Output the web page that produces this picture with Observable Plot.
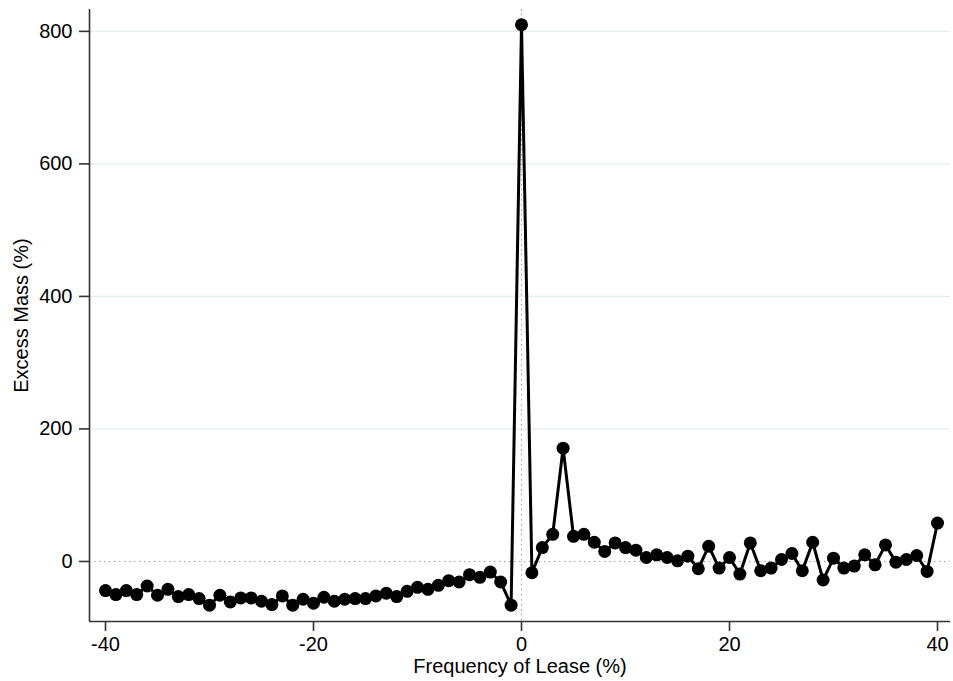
<!DOCTYPE html>
<html>
<head>
<meta charset="utf-8">
<script src="https://cdn.jsdelivr.net/npm/d3@7"></script>
<script src="https://cdn.jsdelivr.net/npm/@observablehq/plot@0.6"></script>
<style>
  html, body { margin: 0; padding: 0; background: #fff; }
  #chart { width: 953px; height: 681px; }
</style>
</head>
<body>
<div id="chart"></div>
<script>
const frequency = d3.range(-40, 41);
const excessMass = [
  -44, -50, -44, -50, -37, -51, -42, -53, -50, -56,
  -66, -51, -61, -55, -55, -60, -65, -52, -66, -57,
  -63, -54, -60, -57, -56, -56, -52, -48, -53, -45,
  -39, -42, -36, -29, -31, -20, -24, -16, -31, -66,
  810,
  -17, 21, 41, 171, 38, 41, 29, 15, 28, 21,
  17, 6, 10, 6, 1, 8, -11, 23, -10, 6,
  -19, 28, -14, -10, 3, 12, -14, 29, -28, 5,
  -10, -7, 10, -5, 25, -1, 3, 9, -15, 58
];
const xTicks = [-40, -20, 0, 20, 40];
const yTicks = [0, 200, 400, 600, 800];
const gridLevels = [200, 400, 600, 800];
const xDomain = [-41.54, 41.25];
const yDomain = [-90.6, 833];

const data = frequency.map((f, i) => ({x: f, y: excessMass[i]}));

const FONT = 20;
const chart = Plot.plot({
  width: 953,
  height: 681,
  marginLeft: 89,
  marginRight: 3,
  marginTop: 9,
  marginBottom: 60,
  style: {fontFamily: "'Liberation Sans', Arial, sans-serif", fontSize: FONT + "px", color: "#000", background: "#fff"},
  x: {domain: xDomain, ticks: xTicks, label: null},
  y: {domain: yDomain, ticks: yTicks, label: null},
  marks: [
    Plot.ruleY(gridLevels, {stroke: "#e3ecef", strokeWidth: 1.2}),
    Plot.ruleY([0], {stroke: "#9aa3a6", strokeWidth: 1, strokeDasharray: "1.5,3.5"}),
    Plot.ruleX([0], {stroke: "#a0a0a0", strokeWidth: 1, strokeDasharray: "1.5,3.5"}),
    Plot.ruleX([xDomain[0]], {stroke: "#333", strokeWidth: 1.6}),
    Plot.ruleY([yDomain[0]], {stroke: "#333", strokeWidth: 1.6}),
    Plot.axisX({ticks: xTicks, tickSize: 10, tickPadding: 5, tickFormat: d => String(d), fontSize: FONT, stroke: "#333", strokeWidth: 1.6, label: null}),
    Plot.axisY({ticks: yTicks, tickSize: 10, tickPadding: 7, fontSize: FONT, stroke: "#333", strokeWidth: 1.6, label: null}),
    Plot.line(data, {x: "x", y: "y", stroke: "#000", strokeWidth: 3}),
    Plot.dot(data, {x: "x", y: "y", r: 6.5, fill: "#000", stroke: "none"}),
    Plot.text(["Frequency of Lease (%)"], {frameAnchor: "bottom", dy: 51, fontSize: FONT, fill: "#000"}),
    Plot.text(["Excess Mass (%)"], {frameAnchor: "left", dx: -68, rotate: -90, textAnchor: "middle", fontSize: FONT, fill: "#000"})
  ]
});
document.getElementById("chart").appendChild(chart);
</script>
</body>
</html>
